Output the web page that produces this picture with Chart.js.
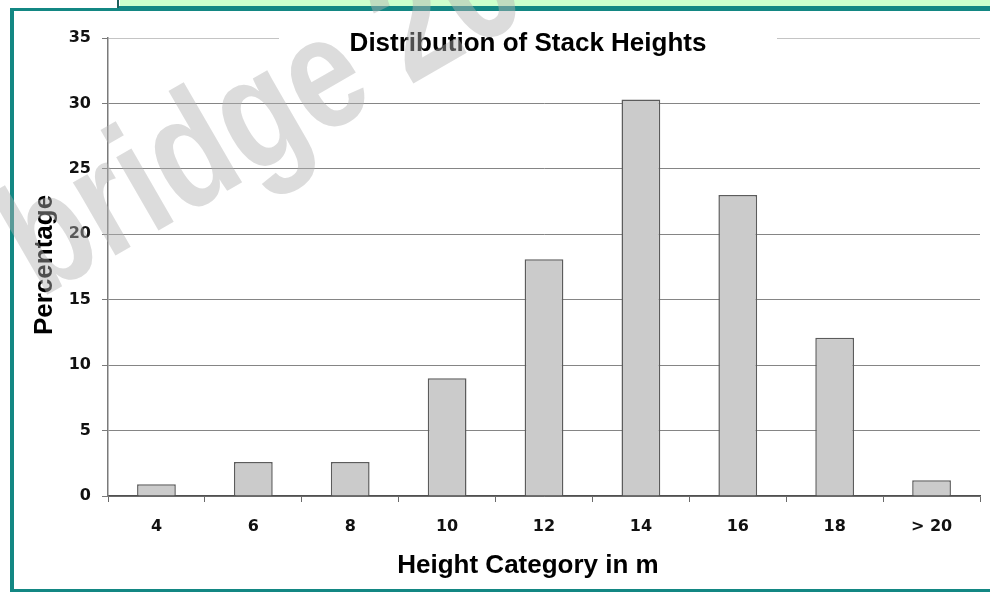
<!DOCTYPE html>
<html>
<head>
<meta charset="utf-8">
<script src="https://cdn.jsdelivr.net/npm/chart.js@4"></script>
<style>
  html, body { margin: 0; padding: 0; background: #ffffff; }
  #wrap { width: 990px; height: 592px; position: relative; }
  canvas { display: block; }
</style>
</head>
<body>
<div id="wrap"><canvas id="c" width="990" height="592"></canvas></div>
<script>
// ---- data ----
const categories = ['4', '6', '8', '10', '12', '14', '16', '18', '> 20'];
const percentages = [0.9, 2.6, 2.6, 9.0, 18.1, 30.3, 23.0, 12.1, 1.2];
const yMin = 0;
const yMax = 35;
const yStep = 5;
const chartTitle = 'Distribution of Stack Heights';
const xTitle = 'Height Category in m';
const yTitle = 'Percentage';
const watermarkText = 'bridge 20';

const TEAL = '#138783';
const TICK_FONT = { family: 'DejaVu Sans', weight: 'bold', size: 16 };

const framePlugin = {
  id: 'frame',
  beforeDraw(chart) {
    const ctx = chart.ctx;
    ctx.save();
    ctx.fillStyle = '#ffffff';
    ctx.fillRect(0, 0, chart.width, chart.height);
    // green strip at the top
    ctx.fillStyle = '#ccffcc';
    ctx.fillRect(120, 0, chart.width - 120, 7);
    ctx.fillStyle = '#1d5f5c';
    ctx.fillRect(117, 0, 2, 8);
    // teal frame
    ctx.fillStyle = TEAL;
    ctx.fillRect(119, 6, chart.width - 119, 3);
    ctx.fillRect(10, 8, chart.width - 10, 3);
    ctx.fillRect(10, 8, 4, chart.height - 8);
    ctx.fillRect(10, chart.height - 3, chart.width - 10, 3);
    ctx.restore();
  }
};

const titlesPlugin = {
  id: 'titles',
  afterDraw(chart) {
    const ctx = chart.ctx;
    const a = chart.chartArea;
    ctx.save();
    // gap in the top border for the title
    ctx.fillStyle = '#ffffff';
    ctx.fillRect(279, a.top - 4, 498, 8);
    ctx.fillStyle = '#000000';
    ctx.font = 'bold 26px "Liberation Sans", Arial, sans-serif';
    ctx.textAlign = 'center';
    ctx.textBaseline = 'alphabetic';
    ctx.fillText(chartTitle, 528, 51);
    ctx.fillText(xTitle, 528, 573);
    ctx.translate(52, 265);
    ctx.rotate(-Math.PI / 2);
    ctx.fillText(yTitle, 0, 0);
    ctx.restore();

    // watermark over everything
    ctx.save();
    ctx.fillStyle = 'rgba(178,178,178,0.45)';
    ctx.font = 'bold 160px "Liberation Sans", Arial, sans-serif';
    ctx.textAlign = 'left';
    ctx.textBaseline = 'alphabetic';
    ctx.translate(40, 299);
    ctx.rotate(-30 * Math.PI / 180);
    ctx.scale(0.8, 1);
    ctx.fillText(watermarkText, 0, 0);
    ctx.restore();
  }
};

new Chart(document.getElementById('c'), {
  type: 'bar',
  data: {
    labels: categories,
    datasets: [{
      label: yTitle,
      data: percentages,
      backgroundColor: '#cbcbcb',
      borderColor: '#5c5c5c',
      borderWidth: 1.5,
      barPercentage: 0.4,
      categoryPercentage: 1.0
    }]
  },
  options: {
    responsive: false,
    animation: false,
    devicePixelRatio: 1,
    layout: { padding: { top: 38, right: 10, left: 0, bottom: 0 } },
    plugins: {
      legend: { display: false },
      tooltip: { enabled: false },
      title: { display: false }
    },
    scales: {
      x: {
        offset: true,
        grid: {
          offset: true,
          drawOnChartArea: true,
          color: (c) => (c.index === categories.length ? '#c4c4c4' : 'rgba(0,0,0,0)'),
          tickColor: '#6a6a6a',
          tickLength: 6,
          lineWidth: 1
        },
        border: { color: '#505050', width: 1.5 },
        ticks: {
          font: TICK_FONT,
          color: '#111111',
          padding: 15,
          maxRotation: 0,
          autoSkip: false
        },
        afterFit: (s) => { s.height = 96; }
      },
      y: {
        min: yMin,
        max: yMax,
        grid: {
          color: (c) => (c.tick && c.tick.value === yMax ? '#c4c4c4' : '#858585'),
          tickColor: '#7a7a7a',
          tickLength: 6,
          lineWidth: 1
        },
        border: { color: '#7a7a7a', width: 1.5 },
        ticks: {
          stepSize: yStep,
          font: TICK_FONT,
          color: '#111111',
          padding: 11
        },
        afterFit: (s) => { s.width = 108; }
      }
    }
  },
  plugins: [framePlugin, titlesPlugin]
});
</script>
</body>
</html>
